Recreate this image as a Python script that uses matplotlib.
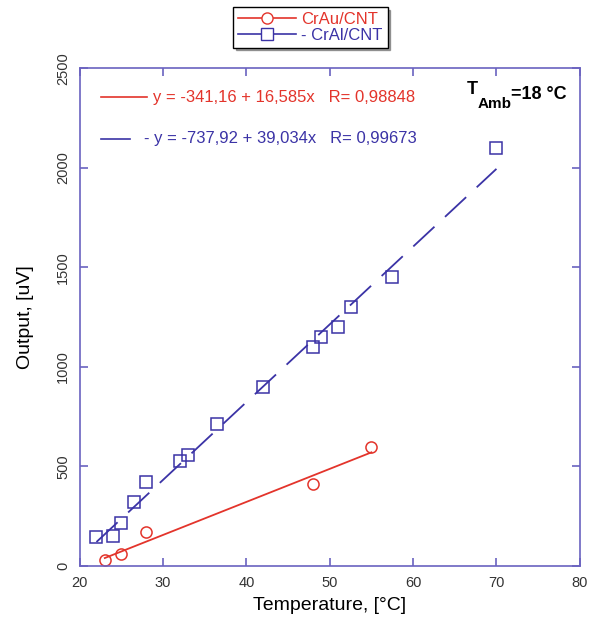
import matplotlib.pyplot as plt
import numpy as np

plt.rcParams['font.family'] = ['Liberation Sans', 'DejaVu Sans']

# measured points
temp_au = [23, 25, 28, 48, 55]
out_au = [30, 60, 170, 410, 600]

temp_al = [22, 24, 25, 26.5, 28, 32, 33, 36.5, 42, 48, 49, 51, 52.5, 57.5, 70]
out_al = [145, 150, 215, 320, 420, 530, 560, 715, 900, 1100, 1150, 1200, 1300, 1450, 2100]

# linear fits (from the chart)
fit_au = (-341.16, 16.585)
fit_al = (-737.92, 39.034)

red = '#e3342b'
blue = '#3b33a6'
frame = '#6a62c0'

fig = plt.figure(figsize=(5.91, 6.2), dpi=100)
ax = fig.add_axes([0.135, 0.087, 0.846, 0.803])

xa = np.array([temp_au[0], temp_au[-1]])
ax.plot(xa, fit_au[0] + fit_au[1] * xa, color=red, lw=1.3)
xl = np.array([temp_al[0], temp_al[-1]])
ax.plot(xl, fit_al[0] + fit_al[1] * xl, color=blue, lw=1.3, dashes=(16, 8))

ax.plot(temp_au, out_au, 'o', ms=8, mfc='none', mec=red, mew=1.1)
ax.plot(temp_al, out_al, 's', ms=9, mfc='none', mec=blue, mew=1.1)

ax.set_xlim(20, 80)
ax.set_ylim(0, 2500)
ax.set_xticks(range(20, 81, 10))
ax.set_yticks(range(0, 2501, 500))
ax.tick_params(direction='in', top=True, right=True, length=6, color=frame,
               labelsize=10.5, labelcolor='#333333', width=1.2, pad=7)
for lab in ax.get_yticklabels():
    lab.set_rotation(90)
    lab.set_va('center')
for s in ax.spines.values():
    s.set_color(frame)
    s.set_linewidth(1.2)

ax.set_xlabel('Temperature, [°C]', fontsize=14, labelpad=5)
ax.set_ylabel('Output, [uV]', fontsize=14, labelpad=16)

# equations inside the plot
ax.plot([22.6, 28.1], [2355, 2355], color=red, lw=1.2)
ax.text(28.8, 2355, 'y = -341,16 + 16,585x   R= 0,98848', color=red,
        fontsize=12, va='center')
ax.plot([22.6, 26.0], [2145, 2145], color=blue, lw=1.2)
ax.text(27.7, 2145, '- y = -737,92 + 39,034x   R= 0,99673', color=blue,
        fontsize=12, va='center')
ax.text(66.4, 2395, 'T', fontsize=13, fontweight='bold', va='center')
ax.text(67.8, 2320, 'Amb', fontsize=11, fontweight='bold', va='center')
ax.text(71.7, 2370, '=18 °C', fontsize=13, fontweight='bold', va='center')

# legend above the plot
h1, = ax.plot([], [], color=red, marker='o', mfc='white', mec=red, ms=8, lw=1.2)
h2, = ax.plot([], [], color=blue, marker='s', mfc='white', mec=blue, ms=8, lw=1.2)
leg = fig.legend([h1, h2], ['CrAu/CNT', '- CrAl/CNT'], loc='center',
                 bbox_to_anchor=(0.525, 0.956), fontsize=12, frameon=True,
                 shadow=True, fancybox=False, handlelength=3.5,
                 borderpad=0.3, labelspacing=0.05, handletextpad=0.3)
leg.get_frame().set_edgecolor('black')
leg.get_texts()[0].set_color(red)
leg.get_texts()[1].set_color(blue)

fig.savefig('out.png', dpi=100)
